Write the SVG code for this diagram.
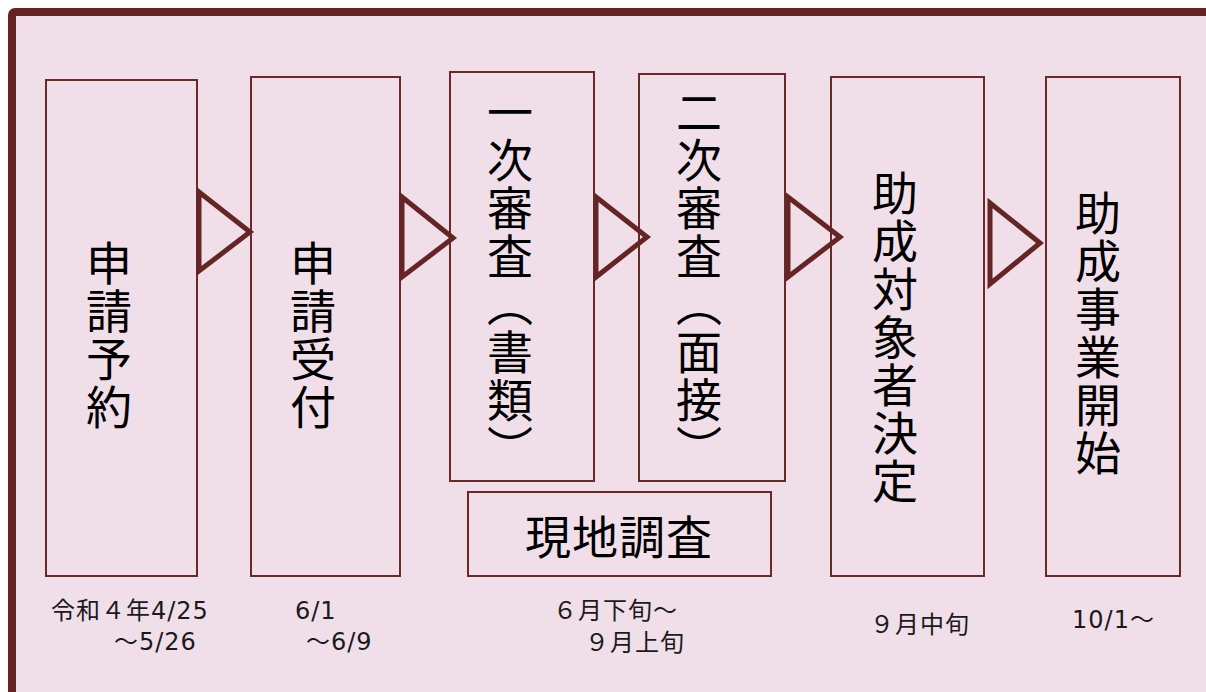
<svg xmlns="http://www.w3.org/2000/svg" width="1206" height="692" viewBox="0 0 1206 692">
<style>
.box{fill:none;stroke:#6b2a2a;stroke-width:2}
.arr{fill:none;stroke:#662525;stroke-width:5;stroke-linejoin:miter}
.vt{font-family:"Noto Sans CJK JP",sans-serif;font-size:46px;fill:#000;writing-mode:vertical-rl;text-anchor:start}
.ht{font-family:"Noto Sans CJK JP",sans-serif;font-size:46px;fill:#000;text-anchor:middle}
.lb{font-family:"DejaVu Sans","Noto Sans CJK JP",sans-serif;font-size:24px;letter-spacing:1px;fill:#1a1a1a}
</style>
<rect x="0" y="0" width="1206" height="692" fill="#ffffff"/>
<rect x="12" y="12" width="1230" height="720" rx="3" fill="#f0dfe9" stroke="#632323" stroke-width="8"/>
<g id="node-yoyaku"><rect class="box" x="46" y="80" width="151" height="496"/><text class="vt" x="109" y="240" letter-spacing="2">申請予約</text></g>
<g id="node-uketsuke"><rect class="box" x="251" y="77" width="149" height="499"/><text class="vt" x="313" y="240" letter-spacing="2">申請受付</text></g>
<g id="node-shinsa1"><rect class="box" x="450" y="72" width="144" height="409"/><text class="vt" x="510" y="89" letter-spacing="2">一次審査（書類）</text></g>
<g id="node-shinsa2"><rect class="box" x="639" y="74" width="146" height="407"/><text class="vt" x="699" y="89" letter-spacing="2">二次審査（面接）</text></g>
<g id="node-genchi"><rect class="box" x="468" y="492" width="303" height="84"/><text class="ht" x="619" y="554" letter-spacing="1">現地調査</text></g>
<g id="node-kettei"><rect class="box" x="831" y="77" width="153" height="499"/><text class="vt" x="895" y="170" letter-spacing="2">助成対象者決定</text></g>
<g id="node-kaishi"><rect class="box" x="1046" y="77" width="134" height="499"/><text class="vt" x="1098" y="190" letter-spacing="2">助成事業開始</text></g>
<g id="connectors">
<polygon class="arr" points="199,192 250,232 199,271"/>
<polygon class="arr" points="402,197 453,238 402,277"/>
<polygon class="arr" points="596,197 647,237 596,277"/>
<polygon class="arr" points="788,197 840,237 788,277"/>
<polygon class="arr" points="990,203 1040,243 990,284"/>
</g>
<g id="labels">
<text class="lb" x="51" y="619">令和４年4/25</text>
<text class="lb" x="114" y="650">～5/26</text>
<text class="lb" x="295" y="619">6/1</text>
<text class="lb" x="306" y="650">～6/9</text>
<text class="lb" x="553" y="619">６月下旬～</text>
<text class="lb" x="585" y="651">９月上旬</text>
<text class="lb" x="870" y="633">９月中旬</text>
<text class="lb" x="1072" y="628">10/1～</text>
</g>
</svg>
